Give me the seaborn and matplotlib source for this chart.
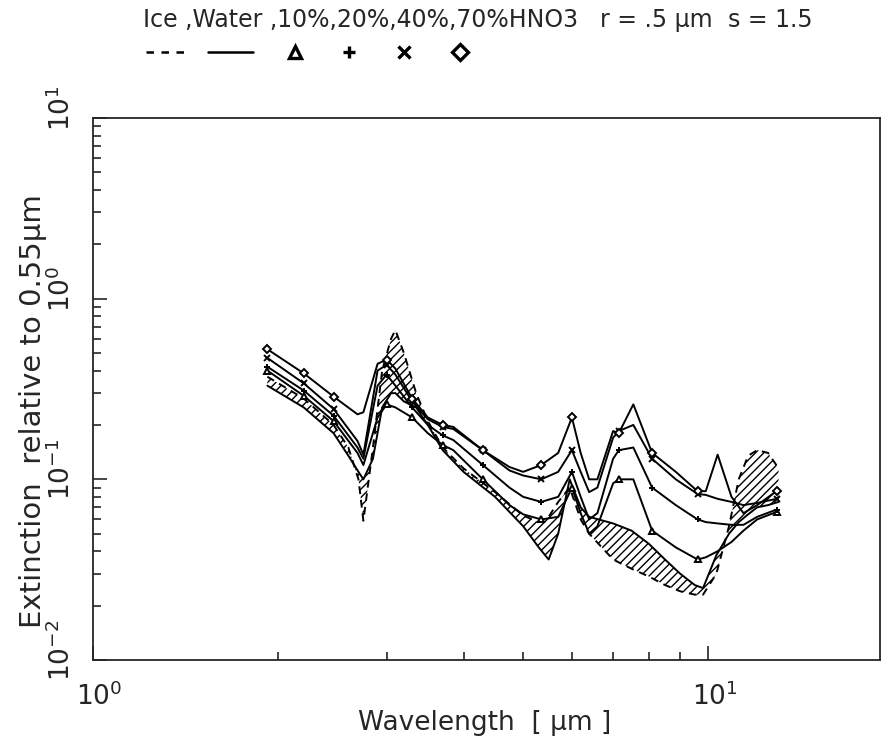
import matplotlib
matplotlib.use("Agg")
import matplotlib.pyplot as plt
from matplotlib.lines import Line2D
from matplotlib.ticker import LogLocator, NullFormatter
from matplotlib.transforms import ScaledTranslation
import seaborn as sns

sns.set_style("ticks")
plt.rcParams['font.family'] = ['DejaVu Sans']
plt.rcParams['hatch.linewidth'] = 1.0

# HNO3 solution droplets, extinction relative to 0.55 um
wl_hno3 = [1.92, 2.2, 2.46, 2.69, 2.75, 2.9, 3.0, 3.1, 3.3, 3.5, 3.7, 3.85, 4.3, 4.75,
           5.0, 5.35, 5.7, 6.0, 6.2, 6.4, 6.6, 7.0, 7.15, 7.55, 8.1, 8.85, 9.6, 9.9,
           10.35, 10.9, 11.4, 12.0, 12.9]
hno3_70 = [0.525, 0.386, 0.287, 0.229, 0.235, 0.436, 0.46, 0.41, 0.28, 0.22, 0.20, 0.195,
           0.145, 0.117, 0.11, 0.12, 0.14, 0.22, 0.14, 0.10, 0.10, 0.185, 0.18, 0.26, 0.14,
           0.11, 0.086, 0.086, 0.137, 0.08, 0.065, 0.072, 0.086]
hno3_40 = [0.47, 0.34, 0.245, 0.163, 0.137, 0.40, 0.43, 0.38, 0.27, 0.215, 0.195, 0.19,
           0.145, 0.112, 0.105, 0.10, 0.11, 0.145, 0.11, 0.085, 0.09, 0.17, 0.185, 0.20, 0.13,
           0.10, 0.083, 0.082, 0.078, 0.075, 0.072, 0.074, 0.078]
hno3_20 = [0.42, 0.31, 0.225, 0.15, 0.13, 0.33, 0.38, 0.33, 0.25, 0.20, 0.175, 0.165,
           0.12, 0.09, 0.08, 0.075, 0.08, 0.11, 0.08, 0.06, 0.065, 0.13, 0.145, 0.15, 0.09,
           0.072, 0.06, 0.058, 0.057, 0.056, 0.056, 0.062, 0.068]
hno3_10 = [0.40, 0.29, 0.21, 0.14, 0.12, 0.22, 0.26, 0.25, 0.22, 0.18, 0.155, 0.145,
           0.10, 0.072, 0.064, 0.06, 0.062, 0.09, 0.065, 0.05, 0.055, 0.095, 0.10, 0.10, 0.052,
           0.042, 0.036, 0.037, 0.040, 0.045, 0.052, 0.06, 0.066]
mark_idx = [0, 1, 2, 6, 8, 10, 12, 15, 17, 22, 24, 26, 32]

# ice and water droplets
wl_ref = [1.92, 2.2, 2.46, 2.6, 2.7, 2.75, 2.85, 2.95, 3.05, 3.1, 3.2, 3.35, 3.5, 3.7, 4.0,
          4.5, 5.0, 5.3, 5.5, 5.7, 5.95, 6.2, 6.4, 7.0, 7.5, 8.0, 8.5, 9.0, 9.5, 9.8, 10.3,
          10.8, 11.2, 11.6, 12.0, 12.5, 13.0]
ice = [0.37, 0.28, 0.20, 0.15, 0.10, 0.059, 0.15, 0.40, 0.60, 0.67, 0.50, 0.30, 0.21, 0.15,
       0.115, 0.085, 0.063, 0.058, 0.062, 0.075, 0.09, 0.06, 0.05, 0.036, 0.032, 0.029,
       0.026, 0.024, 0.023, 0.023, 0.03, 0.055, 0.10, 0.135, 0.145, 0.14, 0.115]
water = [0.33, 0.25, 0.18, 0.135, 0.11, 0.10, 0.13, 0.25, 0.30, 0.30, 0.27, 0.25, 0.20, 0.145,
         0.11, 0.08, 0.055, 0.042, 0.036, 0.05, 0.10, 0.07, 0.062, 0.057, 0.052, 0.044, 0.036,
         0.030, 0.026, 0.025, 0.038, 0.05, 0.058, 0.064, 0.07, 0.072, 0.075]

W, H = 882, 742
fig = plt.figure(figsize=(W / 100, H / 100), dpi=100)
ax = fig.add_axes([93 / W, 1 - 660 / H, 787 / W, (660 - 118) / H])

ax.fill_between(wl_ref, ice, water, facecolor='none', edgecolor='black', hatch='////',
                linewidth=0)
sns.lineplot(x=wl_ref, y=ice, ax=ax, color='black', linestyle=(0, (4, 3)), linewidth=1.4)
sns.lineplot(x=wl_ref, y=water, ax=ax, color='black', linewidth=1.4)
for vals, m in [(hno3_10, '^'), (hno3_20, '+'), (hno3_40, 'x'), (hno3_70, 'D')]:
    sns.lineplot(x=wl_hno3, y=vals, ax=ax, color='black', linewidth=1.4, marker=m,
                 markevery=mark_idx, markersize=4, markerfacecolor='white',
                 markeredgecolor='black', markeredgewidth=1.4)

ax.set_xscale('log')
ax.set_yscale('log')
ax.set_xlim(1, 19)
ax.set_ylim(1e-2, 10)

for s in ax.spines.values():
    s.set_linewidth(1.3)
ax.tick_params(which='both', direction='in', top=False, right=False, width=1.2)
ax.tick_params(which='major', length=10)
ax.tick_params(which='minor', length=6)
ax.xaxis.set_minor_locator(LogLocator(base=10, subs=range(2, 10)))
ax.yaxis.set_minor_locator(LogLocator(base=10, subs=range(2, 10)))
ax.xaxis.set_minor_formatter(NullFormatter())
ax.yaxis.set_minor_formatter(NullFormatter())

ax.set_xticks([1, 10])
ax.set_xticklabels([r'$\mathregular{10^{0}}$', r'$\mathregular{10^{1}}$'], fontsize=19)
ax.set_yticks([1e-2, 1e-1, 1, 10])
ax.set_yticklabels([r'$\mathregular{10^{-2}}$', r'$\mathregular{10^{-1}}$',
                    r'$\mathregular{10^{0}}$', r'$\mathregular{10^{1}}$'],
                   fontsize=19, rotation=90, va='center')
ax.tick_params(axis='y', pad=12)
ax.tick_params(axis='x', pad=16)
# the exponent pushes the label box off the tick; put the base digits on the tick
up = ScaledTranslation(0, 10 / 100, fig.dpi_scale_trans)
right = ScaledTranslation(6 / 100, 0, fig.dpi_scale_trans)
for lab in ax.get_yticklabels():
    lab.set_transform(lab.get_transform() + up)
for lab in ax.get_xticklabels():
    lab.set_transform(lab.get_transform() + right)

ax.set_xlabel('Wavelength  [ µm ]', fontsize=19)
ax.xaxis.set_label_coords(0.498, -0.092)
ax.set_ylabel('Extinction  relative to 0.55µm', fontsize=21)
ax.yaxis.set_label_coords(-0.058, 0.46)

# header with the legend key
fig.text(143 / W, 1 - 20 / H, 'Ice ,Water ,10%,20%,40%,70%HNO3', fontsize=17,
         va='center', ha='left')
fig.text(600 / W, 1 - 20 / H, 'r = .5 µm', fontsize=17, va='center', ha='left')
fig.text(728 / W, 1 - 20 / H, 's = 1.5', fontsize=17, va='center', ha='left')
ky = 1 - 52 / H
fig.add_artist(Line2D([146 / W, 186 / W], [ky, ky], color='black', lw=1.8,
                      linestyle=(0, (3, 3))))
fig.add_artist(Line2D([208 / W, 253 / W], [ky, ky], color='black', lw=1.8))
for x, m in [(295, '^'), (349, '+'), (404, 'x'), (460, 'D')]:
    fig.add_artist(Line2D([x / W], [ky], marker=m, color='black', markersize=8,
                          markerfacecolor='white', markeredgewidth=2.4, linestyle='none'))

fig.savefig('out.png', dpi=100)
